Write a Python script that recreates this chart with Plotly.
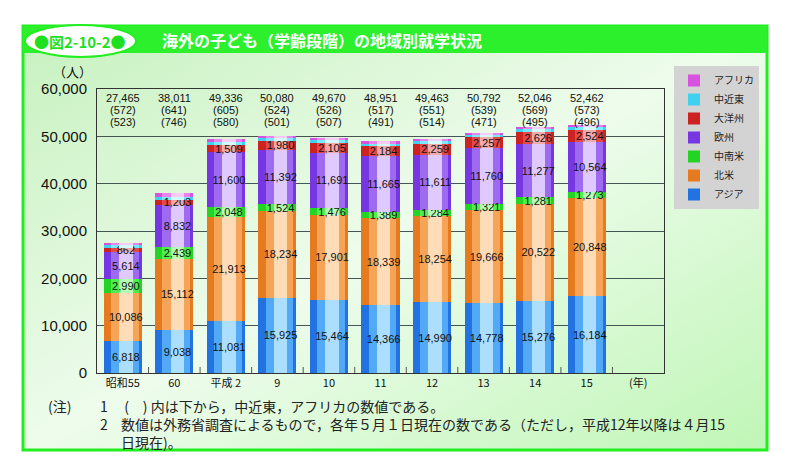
import plotly.graph_objects as go

# ---------------- data ----------------
categories = ["昭和55", "60", "平成 2", "9", "10", "11", "12", "13", "14", "15"]
axis_slots = categories + ["(年)"]

asia = [6818, 9038, 11081, 15925, 15464, 14366, 14990, 14778, 15276, 16184]
north_america = [10086, 15112, 21913, 18234, 17901, 18339, 18254, 19666, 20522, 20848]
latin_america = [2990, 2439, 2048, 1524, 1476, 1389, 1284, 1321, 1281, 1273]
europe = [5614, 8832, 11600, 11392, 11691, 11665, 11611, 11760, 11277, 10564]
oceania = [862, 1203, 1509, 1980, 2105, 2184, 2259, 2257, 2626, 2524]
middle_east = [572, 641, 605, 524, 526, 517, 551, 539, 569, 573]
africa = [523, 746, 580, 501, 507, 491, 514, 471, 495, 496]

y_ticks = [0, 10000, 20000, 30000, 40000, 50000, 60000]

# name, values, (edge, mid, highlight) colours, labelled
series = [
    ("アジア", asia, ("#2272e2", "#52aaf6", "#acdeff"), True),
    ("北米", north_america, ("#e67a1e", "#f6a458", "#ffdcb8"), True),
    ("中南米", latin_america, ("#24d424", "#4eee4e", "#b4ffb4"), True),
    ("欧州", europe, ("#7636e2", "#9e6af0", "#decaff"), True),
    ("大洋州", oceania, ("#cc2222", "#e24a4a", "#f4aaaa"), True),
    ("中近東", middle_east, ("#40d0f0", "#7ae8ff", "#d2faff"), False),
    ("アフリカ", africa, ("#d852e0", "#ea82ee", "#f8caf8"), False),
]

# ---------------- geometry helpers ----------------
W, H = 790, 468
L, R, T, B = 97, 664, 89, 373


def px(x):
    return (x - L) / (R - L)


def py(y):
    return (B - y) / (B - T)


FONT = "Liberation Sans, Noto Sans CJK JP, sans-serif"
JP = "Noto Sans CJK JP, sans-serif"

fig = go.Figure()
# three stacked layers (edge, body, highlight) give the bars a cylinder look
layers = [("x", 0.74, 0.0), ("x2", 0.54, 0.04), ("x3", 0.26, 0.06)]
for li, (xa, w, shift) in enumerate(layers):
    for name, vals, cols, labelled in series:
        top = li == len(layers) - 1
        show_text = top and labelled
        fig.add_trace(go.Bar(
            name=name,
            x=list(range(len(categories))),
            y=vals,
            xaxis=xa,
            marker=dict(color=cols[li], line=dict(width=0)),
            width=w,
            offset=shift - w / 2,
            showlegend=(li == 0),
            legendgroup=name,
            text=[f"{v:,}" for v in vals] if show_text else None,
            textposition="inside" if show_text else "none",
            insidetextanchor="middle",
            textangle=0,
            constraintext="none",
            textfont=dict(size=11, color="#111111", family=FONT),
            hoverinfo="y+name" if li == 0 else "skip",
        ))

totals = [sum(s[1][i] for s in series) for i in range(len(categories))]

annotations = []
line_px = [98, 110, 122]
for i in range(len(categories)):
    lines = [f"{totals[i]:,}", f"({middle_east[i]})", f"({africa[i]})"]
    for ln, ypx in zip(lines, line_px):
        annotations.append(dict(
            x=i, xref="x", y=py(ypx), yref="paper", text=ln, showarrow=False,
            font=dict(size=11, color="#111111", family=FONT), xanchor="center", yanchor="middle",
        ))

# unit label
annotations.append(dict(x=px(72), y=py(71), xref="paper", yref="paper", text="（人）",
                        showarrow=False, font=dict(size=13, color="#111111", family=JP),
                        xanchor="center", yanchor="middle"))

# header texts
annotations.append(dict(x=px(80), y=py(41), xref="paper", yref="paper", text="<b>●図2-10-2●</b>",
                        showarrow=False, font=dict(size=15, color="#1fe01f", family=JP),
                        xanchor="center", yanchor="middle"))
annotations.append(dict(x=px(160), y=py(40), xref="paper", yref="paper",
                        text="<b>海外の子ども（学齢段階）の地域別就学状況</b>",
                        showarrow=False, font=dict(size=16, color="#ffffff", family=JP),
                        xanchor="left", yanchor="middle"))

# notes (one block per column so the lines do not collide)
note_font = dict(size=14, color="#222222", family=JP)
note_lines = [
    "&nbsp;(　) 内は下から，中近東，アフリカの数値である。",
    "数値は外務省調査によるもので，各年５月１日現在の数である（ただし，平成12年以降は４月15",
    "日現在)。",
]
annotations.append(dict(x=px(46), y=py(394), xref="paper", yref="paper", text="(注)",
                        showarrow=False, font=note_font, xanchor="left", yanchor="top"))
annotations.append(dict(x=px(98), y=py(394), xref="paper", yref="paper", text="1<br>2",
                        showarrow=False, font=note_font, xanchor="left", yanchor="top", align="left"))
annotations.append(dict(x=px(119), y=py(394), xref="paper", yref="paper",
                        text="<br>".join(note_lines),
                        showarrow=False, font=note_font, xanchor="left", yanchor="top", align="left"))

shapes = [
    # panel frame
    dict(type="rect", xref="paper", yref="paper", x0=px(23), x1=px(767), y0=py(450), y1=py(26),
         line=dict(color="#22ee22", width=3), fillcolor="rgba(0,0,0,0)", layer="below"),
    # header band
    dict(type="rect", xref="paper", yref="paper", x0=px(23), x1=px(767), y0=py(53), y1=py(26),
         line=dict(width=0), fillcolor="#2cf02c", layer="below"),
    # oval badge
    dict(type="circle", xref="paper", yref="paper", x0=px(25), x1=px(136), y0=py(57), y1=py(25),
         line=dict(color="#22ee22", width=2), fillcolor="#ffffff", layer="below"),
]

grad_svg = (
    "data:image/svg+xml;utf8,"
    "<svg xmlns='http://www.w3.org/2000/svg' width='744' height='424' preserveAspectRatio='none'>"
    "<defs><linearGradient id='g' x1='0' y1='0' x2='1' y2='1'>"
    "<stop offset='0' stop-color='%23c6f1be'/>"
    "<stop offset='0.5' stop-color='%23eefcec'/>"
    "<stop offset='1' stop-color='%23bff6b6'/>"
    "</linearGradient></defs>"
    "<rect width='744' height='424' fill='url(%23g)'/></svg>"
)

n_slots = len(axis_slots)
hidden_x = dict(overlaying="x", range=[-0.5, n_slots - 0.5], visible=False,
                showgrid=False, zeroline=False)

fig.update_layout(
    width=W, height=H,
    margin=dict(l=L, r=W - R, t=T, b=H - B),
    paper_bgcolor="#ffffff",
    plot_bgcolor="#aefcfc",
    barmode="stack",
    font=dict(family=FONT, color="#111111"),
    uniformtext=dict(minsize=11, mode="show"),
    showlegend=True,
    legend=dict(
        x=px(674), y=py(66), xanchor="left", yanchor="top",
        bgcolor="#d3d3d3", borderwidth=0,
        traceorder="reversed", font=dict(size=10, family=JP, color="#222222"),
        itemwidth=30, tracegroupgap=0,
    ),
    xaxis=dict(
        range=[-0.5, n_slots - 0.5],
        tickmode="array", tickvals=list(range(n_slots)), ticktext=axis_slots,
        ticks="", tickfont=dict(size=11, family=JP, color="#111111"),
        showline=True, linecolor="#333333", linewidth=1, mirror=True,
        showgrid=False, zeroline=False,
    ),
    xaxis2=hidden_x,
    xaxis3=hidden_x,
    yaxis=dict(
        range=[0, 60000], tickvals=y_ticks, tickformat=",",
        tickfont=dict(size=15, family=FONT, color="#111111"),
        showline=True, linecolor="#333333", linewidth=1, mirror=True,
        showgrid=True, gridcolor="#445555", gridwidth=1, zeroline=False,
        ticks="", ticklabelstandoff=6,
    ),
    annotations=annotations,
    shapes=shapes + [
        # category boundary ticks along the bottom axis
        dict(type="line", xref="x", yref="paper", x0=i + 0.5, x1=i + 0.5, y0=0, y1=py(B - 6),
             line=dict(color="#555555", width=1))
        for i in range(n_slots - 1)
    ],
    images=[dict(source=grad_svg, xref="paper", yref="paper", x=px(23), y=py(26),
                 sizex=px(767) - px(23), sizey=py(26) - py(450), sizing="stretch",
                 xanchor="left", yanchor="top", layer="below")],
)

fig.write_html("out.html", config={"displayModeBar": False},
               post_script="document.body.style.margin='0';")
